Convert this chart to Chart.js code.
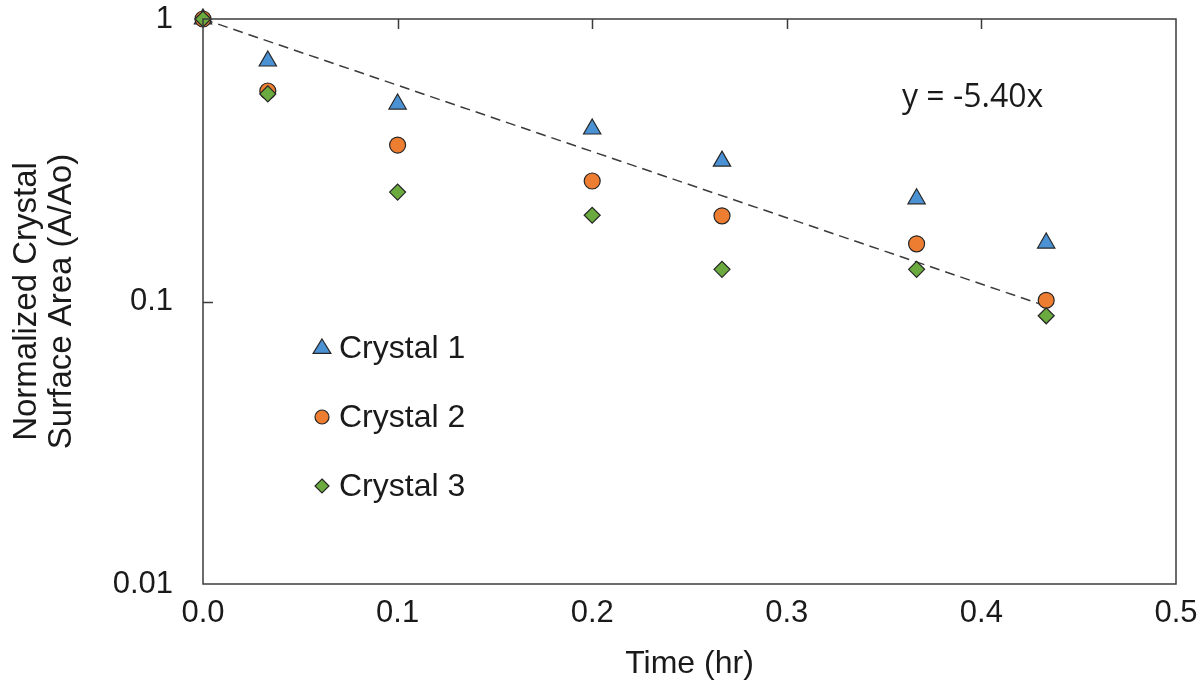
<!DOCTYPE html>
<html>
<head>
<meta charset="utf-8">
<script src="https://cdn.jsdelivr.net/npm/chart.js@4/dist/chart.umd.min.js"></script>
<style>
  html, body { margin: 0; padding: 0; background: #fff; }
  #wrap { width: 1199px; height: 683px; position: relative; }
</style>
</head>
<body>
<div id="wrap"><canvas id="c"></canvas></div>
<script>
/* ── data (time in hr, normalized area A/Ao) ── */
const timeHr   = [0, 0.0333, 0.1, 0.2, 0.2667, 0.3667, 0.4333];
const crystal1 = [1, 0.71, 0.50, 0.408, 0.314, 0.231, 0.161];
const crystal2 = [1, 0.556, 0.358, 0.267, 0.201, 0.160, 0.101];
const crystal3 = [1, 0.543, 0.244, 0.202, 0.130, 0.130, 0.089];

/* fitted trend: ln(A/Ao) = -5.40 t, drawn between its two end points */
const trendX = [0, 0.4333];
const trendY = [1, 0.0963];
const trendLabel = 'y = -5.40x';

const xTicks      = [0, 0.1, 0.2, 0.3, 0.4, 0.5];
const yTicks      = [0.01, 0.1, 1];
const yTickLabels = ['0.01', '0.1', '1'];

const seriesNames = ['Crystal 1', 'Crystal 2', 'Crystal 3'];

const FONT = "'Liberation Sans', Arial, sans-serif";
const INK  = '#1a1a1a';
const EDGE = '#262626';

function pts(xs, ys) {
  return xs.map((x, i) => ({ x, y: ys[i] }));
}

const datasets = [
  {
    label: seriesNames[0], data: pts(timeHr, crystal1), order: 3,
    pointStyle: 'triangle', pointRadius: 10, pointHoverRadius: 10,
    backgroundColor: '#4b92d4', borderColor: EDGE, borderWidth: 1.2, showLine: false, clip: false
  },
  {
    label: seriesNames[1], data: pts(timeHr, crystal2), order: 2,
    pointStyle: 'circle', pointRadius: 8, pointHoverRadius: 8,
    backgroundColor: '#ed7d31', borderColor: EDGE, borderWidth: 1.2, showLine: false, clip: false
  },
  {
    label: seriesNames[2], data: pts(timeHr, crystal3), order: 1,
    pointStyle: 'rectRot', pointRadius: 8, pointHoverRadius: 8,
    backgroundColor: '#6aaa3e', borderColor: EDGE, borderWidth: 1.2, showLine: false, clip: false
  },
  {
    label: 'fit', data: pts(trendX, trendY), order: 4, type: 'line',
    showLine: true, pointRadius: 0, borderColor: '#3a3a3a', borderWidth: 1.5,
    borderDash: [10, 6], fill: false, tension: 0
  }
];

/* ── small marker shapes for the in-plot legend ── */
function drawShape(ctx, style, x, y, r) {
  if (style === 'triangle') {
    ctx.moveTo(x, y - r);
    ctx.lineTo(x + r * 0.99, y + r * 0.6);
    ctx.lineTo(x - r * 0.99, y + r * 0.6);
    ctx.closePath();
  } else if (style === 'circle') {
    ctx.arc(x, y, r, 0, Math.PI * 2);
  } else {
    ctx.moveTo(x, y - r);
    ctx.lineTo(x + r, y);
    ctx.lineTo(x, y + r);
    ctx.lineTo(x - r, y);
    ctx.closePath();
  }
}

/* ── frame, inner ticks, legend and equation ── */
const decor = {
  id: 'decor',
  afterDatasetsDraw(chart) {
    const { ctx, chartArea: a, scales } = chart;
    ctx.save();
    ctx.strokeStyle = '#3c3c3c';
    ctx.lineWidth = 1.5;
    ctx.strokeRect(a.left, a.top, a.right - a.left, a.bottom - a.top);

    // inner ticks on top edge and left edge
    ctx.beginPath();
    xTicks.slice(1, -1).forEach(v => {
      const px = Math.round(scales.x.getPixelForValue(v)) + 0.5;
      ctx.moveTo(px, a.top);
      ctx.lineTo(px, a.top + 10);
    });
    yTicks.slice(1, -1).forEach(v => {
      const py = Math.round(scales.y.getPixelForValue(v)) + 0.5;
      ctx.moveTo(a.left, py);
      ctx.lineTo(a.left + 10, py);
    });
    ctx.stroke();

    // legend
    const lx = a.left + 119, ly0 = a.top + 329, step = 69;
    ctx.textBaseline = 'middle';
    datasets.slice(0, 3).forEach((d, i) => {
      const y = ly0 + i * step;
      ctx.fillStyle = d.backgroundColor;
      ctx.strokeStyle = EDGE;
      ctx.lineWidth = 1.2;
      ctx.beginPath();
      drawShape(ctx, d.pointStyle, lx, y, d.pointStyle === 'triangle' ? 9 : 7);
      ctx.fill();
      ctx.stroke();
      ctx.font = '32px ' + FONT;
      ctx.fillStyle = INK;
      ctx.textAlign = 'left';
      ctx.fillText(d.label, lx + 17, y + 1);
    });

    // equation
    ctx.font = "32px 'Open Sans', sans-serif";
    ctx.fillStyle = INK;
    ctx.textAlign = 'left';
    ctx.fillText(trendLabel, a.left + 699, a.top + 79);
    ctx.restore();
  }
};

new Chart(document.getElementById('c'), {
  type: 'scatter',
  data: { datasets },
  plugins: [decor],
  options: {
    responsive: true,
    maintainAspectRatio: false,
    animation: false,
    layout: { padding: { top: 19, right: 23, left: 0, bottom: 0 } },
    plugins: {
      legend: { display: false },
      tooltip: { enabled: false }
    },
    scales: {
      x: {
        type: 'linear', min: 0, max: 0.5,
        grid: { display: false, drawTicks: false },
        border: { display: false },
        afterBuildTicks: s => { s.ticks = xTicks.map(v => ({ value: v })); },
        afterFit: s => { s.height = 99; s.paddingLeft = 0; s.paddingRight = 0; },
        ticks: {
          color: INK, padding: 11,
          font: { family: FONT, size: 31 },
          callback: v => Number(v).toFixed(1)
        },
        title: {
          display: true, text: 'Time (hr)', color: INK,
          font: { family: FONT, size: 32 }, padding: { top: 2, bottom: 0 }
        }
      },
      y: {
        type: 'logarithmic', min: 0.01, max: 1,
        grid: { display: false, drawTicks: false },
        border: { display: false },
        afterBuildTicks: s => { s.ticks = yTicks.map(v => ({ value: v })); },
        afterFit: s => { s.width = 203; s.paddingTop = 0; s.paddingBottom = 0; },
        ticks: {
          color: INK, padding: 30,
          font: { family: FONT, size: 31 },
          callback: v => yTickLabels[yTicks.indexOf(v)] ?? ''
        },
        title: {
          display: true, text: ['Normalized Crystal', 'Surface Area (A/Ao)'], color: INK,
          font: { family: FONT, size: 33, lineHeight: 1.05 }, padding: { top: 10, bottom: 0 }
        }
      }
    }
  }
});
</script>
</body>
</html>
